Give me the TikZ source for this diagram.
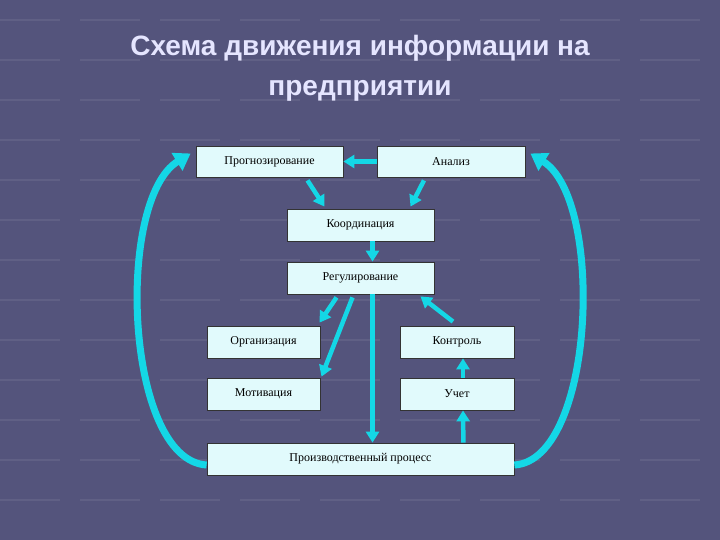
\documentclass[tikz,border=0pt]{standalone}
\usepackage{fontspec}
\setmainfont{Liberation Serif}
\newfontfamily\titlefont{Liberation Sans}
\usetikzlibrary{arrows.meta}
\definecolor{bgc}{RGB}{84,84,124}
\definecolor{boxc}{RGB}{225,250,252}
\definecolor{arc}{RGB}{20,215,230}
\begin{document}
\begin{tikzpicture}[x=1pt,y=-1pt,
  box/.style={draw=black!80,fill=boxc,line width=0.8pt,inner sep=0pt,font=\fontsize{12}{14}\selectfont},
  arr/.style={draw=arc,line width=4.5pt,-{Triangle[length=11pt,width=13pt]}},
  big/.style={draw=arc,line width=7pt,-{Triangle[length=16pt,width=20pt]}}]
\fill[bgc] (0,0) rectangle (720,540);
\useasboundingbox (0,0) rectangle (720,540);
\foreach \y in {20,60,100,140,180,220,260,300,340,380,420,460,500}
  \draw[white,opacity=0.07,line width=2pt,dash pattern=on 60pt off 20pt] (0,\y) -- (720,\y);
\node[font=\titlefont\bfseries\fontsize{28}{40}\selectfont,text=white!90!blue,align=center] (t) at (360,68) {Схема движения информации на\\предприятии};
\node[box,minimum width=147,minimum height=31] (p) at (269.5,161.5) {Прогнозирование};
\node[box,minimum width=148,minimum height=31] (a) at (451,161.5) {Анализ};
\node[box,minimum width=147,minimum height=32] (k) at (360.5,225) {Координация};
\node[box,minimum width=147,minimum height=32] (r) at (360.5,278) {Регулирование};
\node[box,minimum width=113,minimum height=32] (o) at (263.5,342) {Организация};
\node[box,minimum width=114,minimum height=32] (c) at (457,342) {Контроль};
\node[box,minimum width=113,minimum height=32] (m) at (263.5,394) {Мотивация};
\node[box,minimum width=114,minimum height=32] (u) at (457,394) {Учет};
\node[box,minimum width=307,minimum height=32] (pp) at (360.5,459) {Производственный процесс};
\draw[arr] (a.west) -- (p.east);
\draw[arr] ([xshift=38pt,yshift=-3pt]p.south) -- ([xshift=-36pt,yshift=2pt]k.north);
\draw[arr] ([xshift=-27pt,yshift=-3pt]a.south) -- ([xshift=50pt,yshift=2pt]k.north);
\draw[arr] ([xshift=12pt]k.south) -- ([xshift=12pt]r.north);
\draw[arr] ([xshift=-24pt,yshift=-3pt]r.south) -- ([xshift=56pt,yshift=3pt]o.north);
\draw[arr] ([xshift=-8pt,yshift=-3pt]r.south) -- ([xshift=58pt,yshift=1pt]m.north);
\draw[arr] ([xshift=12pt]r.south) -- ([xshift=12pt]pp.north);
\draw[arr] ([xshift=-4pt,yshift=4pt]c.north) -- ([xshift=60pt,yshift=-2pt]r.south);
\draw[arr] ([xshift=6pt]u.north) -- ([xshift=6pt]c.south);
\draw[arr] ([xshift=-51pt]pp.north east) -- ([xshift=6pt]u.south);
\draw[big] ([yshift=-6pt]pp.west) .. controls (125,460) and (115,200) .. ([xshift=-5pt,yshift=8pt]p.west);
\draw[big] ([yshift=-6pt]pp.east) .. controls (595,460) and (605,200) .. ([xshift=5pt,yshift=8pt]a.east);
\end{tikzpicture}
\end{document}
